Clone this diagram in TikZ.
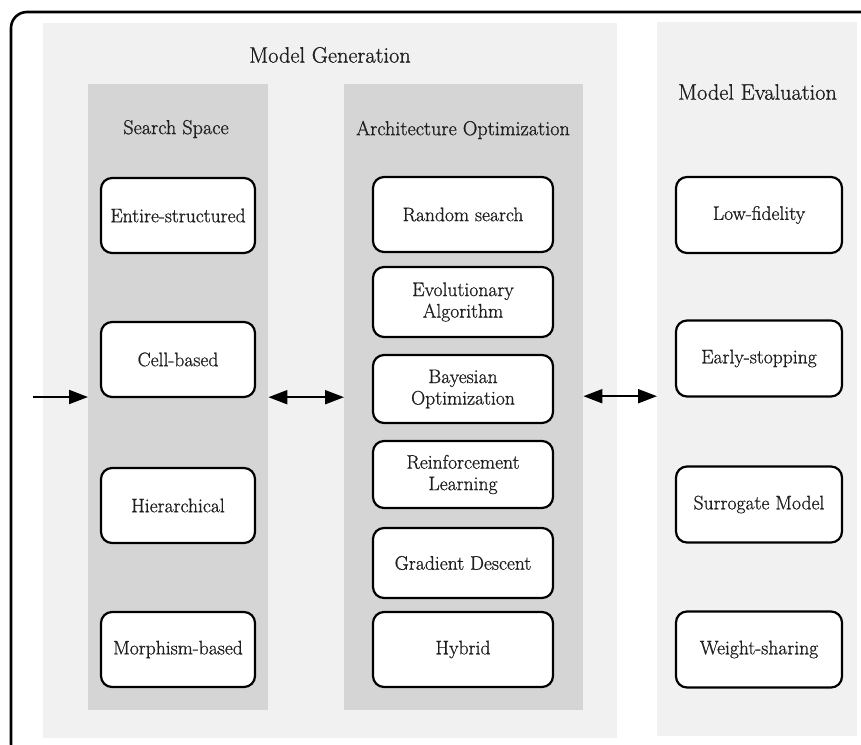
\documentclass[tikz,border=0pt]{standalone}
\usepackage{fontspec}
\setmainfont{Latin Modern Roman}
\newfontfamily\labelfont{Latin Modern Roman}[FakeBold=0.9]
\usetikzlibrary{arrows.meta}
\definecolor{panelgray}{gray}{0.945}
\definecolor{colgray}{gray}{0.835}
\definecolor{inkgray}{gray}{0.12}

\begin{document}
\begin{tikzpicture}[x=1pt,y=-1pt,
  zone/.style={fill=#1, draw=none, inner sep=0pt, anchor=north west},
  stagebox/.style={draw=black, line width=2.2pt, rounded corners=11pt, fill=white,
    align=center, inner sep=0pt, text=inkgray,
    font=\labelfont\fontsize{19.6}{21.5}\selectfont},
  sstyle/.style={stagebox, minimum width=154pt, minimum height=75pt},
  astyle/.style={stagebox, minimum width=180pt, minimum height=#1},
  estyle/.style={stagebox, minimum width=166pt, minimum height=76pt},
  heading/.style={font=\labelfont\fontsize{22.3}{24}\selectfont, inner sep=0pt, text=inkgray},
  subheading/.style={font=\labelfont\fontsize{20.2}{22}\selectfont, inner sep=0pt, text=inkgray},
  link/.style={line width=2pt, {Triangle[length=19pt,width=14pt]}-{Triangle[length=19pt,width=14pt]}},
  feed/.style={line width=2pt, -{Triangle[length=19pt,width=14pt]}}
]
\useasboundingbox (0,0) rectangle (861,744);
\clip (0,0) rectangle (861,744);

% outer frame
\draw[line width=2.6pt, rounded corners=16pt] (11,12) rectangle (880,760);

% panels and columns
\node[zone=panelgray, minimum width=574pt, minimum height=715pt] (gen) at (43,23) {};
\node[zone=panelgray, minimum width=200pt, minimum height=714pt] (eval) at (657,22) {};
\node[zone=colgray, minimum width=180pt, minimum height=626pt] (sscol) at (88,84) {};
\node[zone=colgray, minimum width=239pt, minimum height=626pt] (aocol) at (344,84) {};

% headings
\node[heading] (genT) at (330,55) {Model Generation};
\node[heading] (evalT) at (757.5,92) {Model Evaluation};
\node[subheading] (ssT) at (176,129) {Search Space};
\node[subheading] (aoT) at (463,130) {Architecture Optimization};

% search space
\node[sstyle] (s1) at (178,215.5) {Entire-structured};
\node[sstyle] (s2) at (178,359.5) {Cell-based};
\node[sstyle] (s3) at (178,505.5) {Hierarchical};
\node[sstyle] (s4) at (178,649.5) {Morphism-based};

% architecture optimization
\node[astyle=75pt] (a1) at (463,214.5) {Random search};
\node[astyle=70pt] (a2) at (463,302) {Evolutionary\\Algorithm};
\node[astyle=68pt] (a3) at (463,389) {Bayesian\\Optimization};
\node[astyle=67pt] (a4) at (463,474.5) {Reinforcement\\Learning};
\node[astyle=70pt] (a5) at (463,563) {Gradient Descent};
\node[astyle=75pt] (a6) at (463,649.5) {Hybrid};

% model evaluation
\node[estyle] (e1) at (759,215) {Low-fidelity};
\node[estyle] (e2) at (759,358.5) {Early-stopping};
\node[estyle] (e3) at (759,504.5) {Surrogate Model};
\node[estyle] (e4) at (759,649.5) {Weight-sharing};

% connectors
\coordinate (start) at (33,397);
\draw[feed] (start) -- (start -| sscol.west);
\draw[link] (sscol.east) -- (sscol.east -| aocol.west);
\coordinate (aoE) at ([yshift=1pt]aocol.east);
\draw[link] (aoE) -- (aoE -| eval.west);
\end{tikzpicture}
\end{document}
